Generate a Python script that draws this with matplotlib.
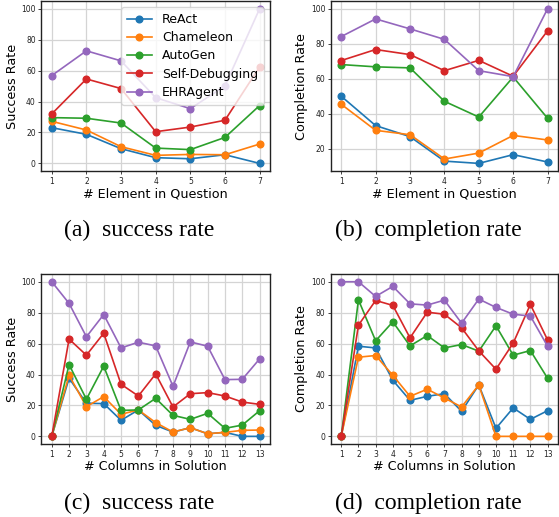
import numpy as np
import matplotlib
matplotlib.use("Agg")
import matplotlib.pyplot as plt

# === DATA ===
METHODS = ["ReAct", "Chameleon", "AutoGen", "Self-Debugging", "EHRAgent"]
COLORS = ["#1f77b4", "#ff7f0e", "#2ca02c", "#d62728", "#9467bd"]

ELEMENTS = [1, 2, 3, 4, 5, 6, 7]
COLUMNS = [1, 2, 3, 4, 5, 6, 7, 8, 9, 10, 11, 12, 13]

# (a) success rate vs # element in question
react_sr_elem = [23.1, 18.8, 9.5, 3.7, 3.0, 5.6, 0.0]
chameleon_sr_elem = [27.2, 21.6, 10.8, 5.2, 5.8, 5.6, 12.5]
autogen_sr_elem = [29.6, 29.2, 26.1, 9.9, 8.9, 16.8, 37.4]
selfdebug_sr_elem = [32.0, 54.6, 48.4, 20.5, 23.5, 27.9, 62.4]
ehragent_sr_elem = [56.8, 72.8, 66.3, 42.5, 35.4, 50.1, 100.0]

# (b) completion rate vs # element in question
react_cr_elem = [50.0, 33.2, 26.9, 12.9, 11.6, 16.6, 12.4]
chameleon_cr_elem = [45.4, 30.5, 28.0, 14.1, 17.5, 27.6, 25.0]
autogen_cr_elem = [68.1, 66.8, 66.2, 47.1, 38.1, 61.0, 37.4]
selfdebug_cr_elem = [70.4, 76.7, 73.8, 64.6, 70.5, 61.4, 87.4]
ehragent_cr_elem = [84.1, 94.2, 88.5, 82.5, 64.6, 61.2, 100.0]

# (c) success rate vs # columns in solution
react_sr_col = [0.0, 37.6, 21.4, 21.2, 10.4, 17.1, 7.1, 2.8, 5.6, 1.7, 2.6, 0.0, 0.0]
chameleon_sr_col = [0.0, 39.5, 19.2, 25.7, 14.3, 17.1, 8.9, 2.8, 5.6, 1.7, 2.6, 3.9, 4.1]
autogen_sr_col = [0.0, 46.4, 24.0, 45.4, 16.8, 17.1, 24.6, 13.6, 11.0, 14.9, 5.2, 7.3, 16.6]
selfdebug_sr_col = [0.0, 62.9, 52.5, 66.7, 33.7, 26.1, 40.4, 19.0, 27.6, 28.3, 26.1, 22.2, 20.7]
ehragent_sr_col = [100.0, 86.0, 64.4, 78.8, 57.2, 60.9, 58.5, 32.4, 61.1, 58.3, 36.7, 36.9, 50.1]

# (d) completion rate vs # columns in solution
react_cr_col = [0.0, 58.3, 57.2, 36.3, 23.3, 25.9, 27.6, 16.2, 33.3, 5.2, 18.4, 11.0, 16.6]
chameleon_cr_col = [0.0, 51.2, 52.3, 39.5, 25.9, 30.5, 24.8, 19.0, 33.3, 0.0, 0.0, 0.0, 0.0]
autogen_cr_col = [0.0, 88.3, 61.8, 74.1, 58.5, 65.2, 57.2, 59.4, 55.1, 71.5, 52.5, 55.5, 37.6]
selfdebug_cr_col = [0.0, 71.9, 87.9, 84.7, 63.7, 80.3, 79.0, 70.2, 55.3, 43.4, 60.3, 85.3, 62.4]
ehragent_cr_col = [100.0, 100.0, 90.5, 97.0, 85.7, 84.9, 88.1, 73.2, 88.8, 83.4, 79.0, 77.8, 58.3]

PANELS = [
    # x, series, xlabel, ylabel, caption, axes rect
    (ELEMENTS, [react_sr_elem, chameleon_sr_elem, autogen_sr_elem, selfdebug_sr_elem, ehragent_sr_elem],
     "# Element in Question", "Success Rate", "(a)  success rate", [0.074, 0.669, 0.409, 0.329]),
    (ELEMENTS, [react_cr_elem, chameleon_cr_elem, autogen_cr_elem, selfdebug_cr_elem, ehragent_cr_elem],
     "# Element in Question", "Completion Rate", "(b)  completion rate", [0.592, 0.669, 0.406, 0.329]),
    (COLUMNS, [react_sr_col, chameleon_sr_col, autogen_sr_col, selfdebug_sr_col, ehragent_sr_col],
     "# Columns in Solution", "Success Rate", "(c)  success rate", [0.074, 0.141, 0.409, 0.329]),
    (COLUMNS, [react_cr_col, chameleon_cr_col, autogen_cr_col, selfdebug_cr_col, ehragent_cr_col],
     "# Columns in Solution", "Completion Rate", "(d)  completion rate", [0.592, 0.141, 0.406, 0.329]),
]


def draw_panel(fig, x, series, xlabel, ylabel, caption, rect, legend=False):
    ax = fig.add_axes(rect)
    for name, color, y in zip(METHODS, COLORS, series):
        ax.plot(x, y, marker="o", color=color, lw=1.2, ms=4.8, label=name)
    ax.set_xticks(x)
    ax.grid(True, color="#d4d4d4", lw=0.9)
    ax.set_axisbelow(True)
    ax.tick_params(labelsize=5.5, length=2.5, width=0.6, colors="#222222", pad=1.5)
    ax.set_xlabel(xlabel, fontsize=9.2, labelpad=1)
    ax.set_ylabel(ylabel, fontsize=9.2, labelpad=2)
    for s in ax.spines.values():
        s.set_color("#222222")
        s.set_linewidth(1.0)
    if legend:
        ax.legend(loc="upper right", fontsize=9, handlelength=2.0, labelspacing=0.42,
                  borderpad=0.45, framealpha=0.8)
    # caption under the subfigure
    cx = rect[0] + rect[2] / 2 - 16 / 559
    cy = rect[1] - 59.5 / 517
    fig.text(cx, cy, caption, ha="center", va="center", fontsize=17,
             family="Liberation Serif")
    return ax


def main():
    fig = plt.figure(figsize=(5.59, 5.17), dpi=100)
    for i, (x, series, xl, yl, cap, rect) in enumerate(PANELS):
        draw_panel(fig, x, series, xl, yl, cap, rect, legend=(i == 0))
    fig.savefig("out.png", dpi=100)


if __name__ == "__main__":
    main()
